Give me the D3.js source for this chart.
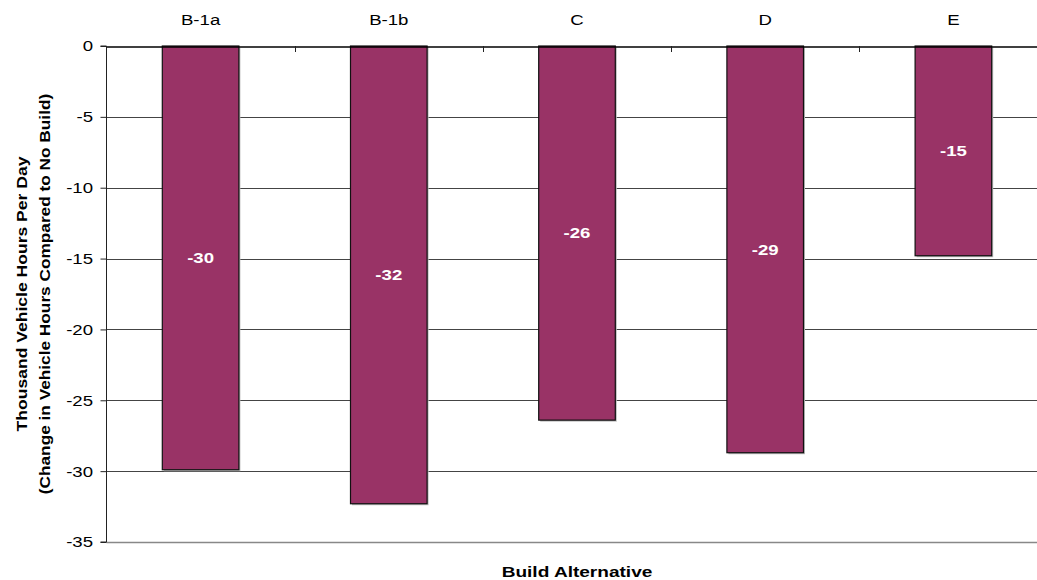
<!DOCTYPE html>
<html>
<head>
<meta charset="utf-8">
<script src="https://cdn.jsdelivr.net/npm/d3@7"></script>
<style>
  html, body { margin: 0; padding: 0; background: #fff; }
  svg { display: block; font-family: "Liberation Sans", Arial, sans-serif; }
</style>
</head>
<body>
<svg id="chart" width="1037" height="580"></svg>
<script>
const categories = ["B-1a", "B-1b", "C", "D", "E"];
const values = [-29.9, -32.3, -26.4, -28.7, -14.8];
const dataLabels = ["-30", "-32", "-26", "-29", "-15"];
const yTicks = [0, -5, -10, -15, -20, -25, -30, -35];
const yTitle1 = "Thousand Vehicle Hours Per Day";
const yTitle2 = "(Change in Vehicle Hours Compared to No Build)";
const xTitle = "Build Alternative";

const svg = d3.select("#chart");
const plotLeft = 106.5, plotRight = 1047.5, plotTop = 46, plotBottom = 542;
const SX = 1.2;   // horizontal stretch of the reference's lettering

const x = d3.scaleBand().domain(categories).range([plotLeft, plotRight]).paddingInner(0.593).paddingOuter(0.2965);
const y = d3.scaleLinear().domain([0, -35]).range([plotTop, plotBottom]);

// gridlines
svg.append("g").selectAll("line").data(yTicks.filter(t => t !== 0)).join("line")
  .attr("x1", plotLeft).attr("x2", plotRight)
  .attr("y1", d => Math.round(y(d)) + 0.5).attr("y2", d => Math.round(y(d)) + 0.5)
  .attr("stroke", d => d === -35 ? "#888" : "#444").attr("stroke-width", d => d === -35 ? 1.5 : 1);

// bars shadow
svg.append("g").selectAll("rect").data(categories).join("rect")
  .attr("x", d => x(d) + 1.5)
  .attr("y", y(0) + 1.5)
  .attr("width", x.bandwidth())
  .attr("height", (d, i) => y(values[i]) - y(0))
  .attr("fill", "#bbb");

// bars
svg.append("g").selectAll("rect").data(categories).join("rect")
  .attr("x", d => x(d))
  .attr("y", y(0))
  .attr("width", x.bandwidth())
  .attr("height", (d, i) => y(values[i]) - y(0))
  .attr("fill", "#993366")
  .attr("stroke", "#111")
  .attr("stroke-width", 1.2);

// data labels
svg.append("g").selectAll("text").data(categories).join("text")
  .attr("transform", (d, i) => `translate(${x(d) + x.bandwidth() / 2},${(y(0) + y(values[i])) / 2}) scale(${SX},1)`)
  .attr("dy", "0.35em")
  .attr("text-anchor", "middle")
  .attr("fill", "#fff")
  .attr("font-weight", "bold")
  .attr("font-size", 15.5)
  .text((d, i) => dataLabels[i]);

// y axis
const yAxis = d3.axisLeft(y).tickValues(yTicks).tickSize(6).tickPadding(8).tickFormat(d3.format("d"));
const gy = svg.append("g").attr("transform", `translate(${plotLeft},0)`).call(yAxis);
gy.select(".domain").attr("stroke", "#222").attr("d", `M-6,${y(0)}H0V${y(-35)}H-6`);
gy.selectAll(".tick line").attr("stroke", "#222");
gy.selectAll(".tick text").attr("font-size", 15.5).attr("fill", "#000")
  .attr("font-family", "Liberation Sans, Arial, sans-serif")
  .attr("x", null).attr("transform", `translate(-13.5,0) scale(${SX},1)`)
  .text(d => String(d));

// category axis at top (zero line)
const xAxis = d3.axisTop(x).tickSize(0).tickPadding(21.5);
const gx = svg.append("g").attr("transform", `translate(0,${y(0) + 0.5})`).call(xAxis);
gx.select(".domain").attr("stroke", "#000").attr("stroke-width", 1.3);
gx.selectAll(".tick text").attr("font-size", 15.5).attr("fill", "#000")
  .attr("font-family", "Liberation Sans, Arial, sans-serif")
  .attr("y", null).attr("transform", `translate(0,-21.5) scale(${SX},1)`);

// category boundary ticks (pointing down from zero line)
svg.append("g").selectAll("line").data(categories.slice(1)).join("line")
  .attr("x1", d => Math.round(x(d) - x.step() * x.paddingInner() / 2) + 0.5)
  .attr("x2", d => Math.round(x(d) - x.step() * x.paddingInner() / 2) + 0.5)
  .attr("y1", y(0)).attr("y2", y(0) + 6)
  .attr("stroke", "#222");

// titles
const midY = (plotTop + plotBottom) / 2;
svg.append("text")
  .attr("transform", `translate(27,${midY}) rotate(-90) scale(1.17,1)`)
  .attr("text-anchor", "middle").attr("font-weight", "bold").attr("font-size", 15)
  .text(yTitle1);
svg.append("text")
  .attr("transform", `translate(50,${midY}) rotate(-90) scale(1.15,1)`)
  .attr("text-anchor", "middle").attr("font-weight", "bold").attr("font-size", 15)
  .text(yTitle2);
svg.append("text")
  .attr("transform", `translate(${(plotLeft + plotRight) / 2},577) scale(1.23,1)`)
  .attr("text-anchor", "middle").attr("font-weight", "bold").attr("font-size", 15.5)
  .text(xTitle);
</script>
</body>
</html>
